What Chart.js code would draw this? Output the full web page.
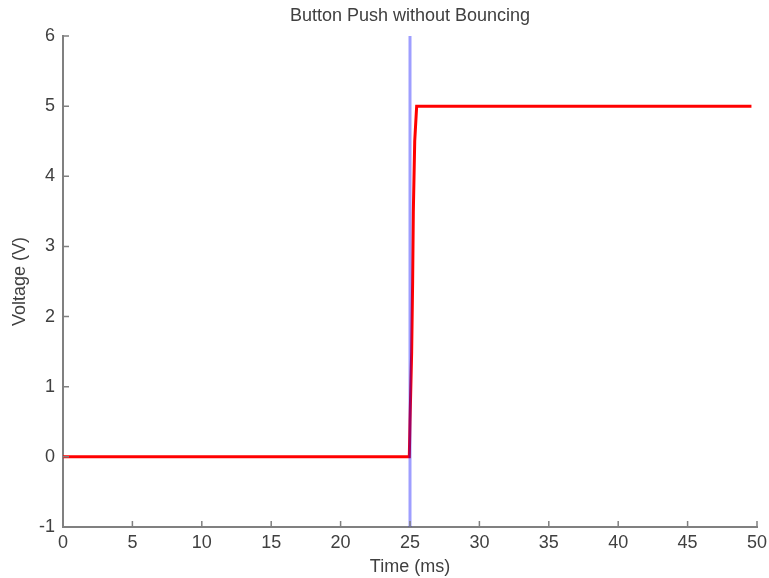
<!DOCTYPE html>
<html>
<head>
<meta charset="utf-8">
<title>Button Push without Bouncing</title>
<script src="https://cdn.jsdelivr.net/npm/chart.js@4.4.0/dist/chart.umd.min.js"></script>
<style>
  html, body { margin: 0; padding: 0; background: #fff; }
  #chartSpace { width: 769px; height: 578px; }
</style>
</head>
<body>
<div id="chartSpace"><canvas id="chart" width="769" height="578"></canvas></div>
<script>
// red trace: time (ms) and voltage (V)
const timeMs = [0, 24.95, 25.0, 25.12, 25.19, 25.24, 25.34, 25.48, 49.6];
const voltage = [0, 0, 0.5, 1.5, 2.5, 3.5, 4.5, 5, 5];

// blue marker line at the press time
const markerTime = [25, 25];
const markerVolt = [-1, 6];

const xTicks = [0, 5, 10, 15, 20, 25, 30, 35, 40, 45, 50];
const yTicks = [-1, 0, 1, 2, 3, 4, 5, 6];

const titleText = 'Button Push without Bouncing';
const textColor = '#404040';
const axisColor = '#808080';
const font = { family: 'Liberation Sans, Arial, sans-serif', size: 18 };

function toPoints(xs, ys) {
  return xs.map((x, i) => ({ x: x, y: ys[i] }));
}

// matlab style ticks pointing into the plot
const innerTicks = {
  id: 'innerTicks',
  afterDatasetsDraw(chart) {
    const c = chart.ctx;
    const a = chart.chartArea;
    const len = 6;
    c.save();
    c.strokeStyle = axisColor;
    c.lineWidth = 1.5;
    c.beginPath();
    chart.scales.x.ticks.forEach(t => {
      const px = chart.scales.x.getPixelForValue(t.value);
      c.moveTo(px, a.bottom);
      c.lineTo(px, a.bottom - len);
    });
    chart.scales.y.ticks.forEach(t => {
      const py = chart.scales.y.getPixelForValue(t.value);
      c.moveTo(a.left, py);
      c.lineTo(a.left + len, py);
    });
    c.stroke();
    c.restore();
  }
};

// title centred over the axes, not the whole canvas
const plotTitle = {
  id: 'plotTitle',
  afterDraw(chart) {
    const c = chart.ctx;
    const a = chart.chartArea;
    c.save();
    c.fillStyle = textColor;
    c.font = font.size + 'px ' + font.family;
    c.textAlign = 'center';
    c.textBaseline = 'middle';
    c.fillText(titleText, (a.left + a.right) / 2, 16);
    c.restore();
  }
};

function buildChart() {
  const ctx = document.getElementById('chart');

  new Chart(ctx, {
    type: 'scatter',
    data: {
      datasets: [{
        label: 'press',
        data: toPoints(markerTime, markerVolt),
        showLine: true,
        borderColor: 'rgba(0,0,255,0.38)',
        borderWidth: 3,
        pointRadius: 0
      }, {
        label: 'signal',
        data: toPoints(timeMs, voltage),
        showLine: true,
        borderColor: '#ff0000',
        borderWidth: 3,
        pointRadius: 0
      }]
    },
    plugins: [innerTicks, plotTitle],
    options: {
      responsive: false,
      animation: false,
      layout: { padding: { top: 36, right: 0 } },
      plugins: {
        legend: { display: false },
        tooltip: { enabled: false },
        title: { display: false }
      },
      scales: {
        x: {
          type: 'linear',
          min: 0,
          max: 50,
          afterBuildTicks: s => { s.ticks = xTicks.map(v => ({ value: v })); },
          afterFit: s => { s.height = 51; s.paddingRight = 12; },
          border: { display: true, color: axisColor, width: 2 },
          grid: { display: false, drawOnChartArea: false, drawTicks: false },
          ticks: { color: textColor, font: font, padding: 5, maxRotation: 0, autoSkip: false },
          title: { display: true, text: 'Time (ms)', color: textColor, font: font, padding: { top: 1, bottom: 0 } }
        },
        y: {
          type: 'linear',
          min: -1,
          max: 6,
          afterBuildTicks: s => { s.ticks = yTicks.map(v => ({ value: v })); },
          afterFit: s => { s.width = 63; },
          border: { display: true, color: axisColor, width: 2 },
          grid: { display: false, drawOnChartArea: false, drawTicks: false },
          ticks: { color: textColor, font: font, padding: 8, autoSkip: false },
          title: { display: true, text: 'Voltage (V)', color: textColor, font: font, padding: { top: 9, bottom: 0 } }
        }
      }
    }
  });
}

buildChart();
</script>
</body>
</html>
